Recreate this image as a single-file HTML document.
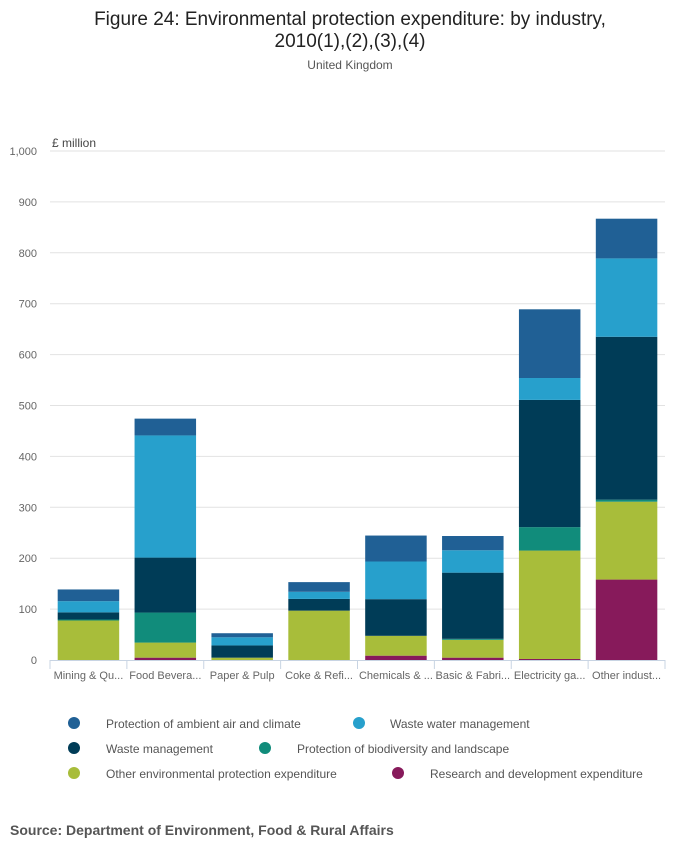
<!DOCTYPE html>
<html><head><meta charset="utf-8"><style>
body{margin:0;width:700px;height:857px;background:#fff;font-family:"Liberation Sans",sans-serif;overflow:hidden}
</style></head><body>
<svg width="700" height="857" xmlns="http://www.w3.org/2000/svg" id="chart">
<text x="350" y="25" text-anchor="middle" font-size="19" fill="#222">Figure 24: Environmental protection expenditure: by industry,</text>
<text x="350" y="47" text-anchor="middle" font-size="19" fill="#222">2010(1),(2),(3),(4)</text>
<text x="350" y="69" text-anchor="middle" font-size="12" fill="#555">United Kingdom</text>
<text x="52" y="147" font-size="12" fill="#444">£ million</text>
<g id="grid"></g><g id="bars"></g><g id="xaxis"></g><g id="legend"></g>
<text x="10" y="835" font-size="14" font-weight="bold" fill="#555">Source: Department of Environment, Food &amp; Rural Affairs</text>
</svg>
<script>
const categories=["Mining & Qu...","Food Bevera...","Paper & Pulp","Coke & Refi...","Chemicals & ...","Basic & Fabri...","Electricity ga...","Other indust..."];
const seriesNames=["Research and development expenditure","Other environmental protection expenditure","Protection of biodiversity and landscape","Waste management","Waste water management","Protection of ambient air and climate"];
const rd=[0,4.6,0,0,8.5,4.6,2,158];
const otherEnv=[77.6,29.6,4.6,97,39,35,213,153];
const biodiv=[2,59,0,0,0,2,46,4];
const wasteMgmt=[14,108,24,23,72,130,250,320];
const wasteWater=[22,240,16,14,74,44,43,154];
const air=[23,33,8,19,51,28,135,78];
const yTicks=[0,100,200,300,400,500,600,700,800,900,1000];
const yTickLabels=["0","100","200","300","400","500","600","700","800","900","1,000"];
const colors=["#871a5b","#a8bd3a","#118c7b","#003c57","#27a0cc","#206095"];
const series=[rd,otherEnv,biodiv,wasteMgmt,wasteWater,air];
const NS="http://www.w3.org/2000/svg";
const x0=50,x1=665,y0=660,yTop=151;
const y=v=>y0-(v/1000)*(y0-yTop);
const bw=(x1-x0)/categories.length;
const xc=i=>x0+bw*(i+0.5);
function mk(t,a,p){const e=document.createElementNS(NS,t);for(const k in a)e.setAttribute(k,a[k]);p.appendChild(e);return e;}
const grid=document.getElementById('grid');
yTicks.forEach((t,i)=>{
 if(t>0){const l=mk('line',{x1:x0,x2:x1,y1:y(t),y2:y(t),stroke:'#e2e2e2','stroke-width':1},grid);
 
 }
 const tx=mk('text',{x:37,y:y(t)+4,'text-anchor':'end','font-size':11,fill:'#666'},grid);
 tx.textContent=yTickLabels[i];
 
 
});
const bars=document.getElementById('bars');
categories.forEach((c,i)=>{
 let cum=0;
 series.forEach((s,j)=>{
  const v=s[i];if(v<=0)return;
  const r=mk('rect',{x:xc(i)-bw*0.4,width:bw*0.8,y:y(cum+v),height:y(cum)-y(cum+v),fill:colors[j]},bars);
  
  
  cum+=v;
 });
});
const xa=document.getElementById('xaxis');
const ax=mk('line',{x1:x0,x2:x1,y1:y0+0.5,y2:y0+0.5,stroke:'#c8d4e3'},xa);


for(let i=0;i<=categories.length;i++){
 const t=mk('line',{x1:x0+bw*i,x2:x0+bw*i,y1:y0,y2:y0+9,stroke:'#c8d4e3'},xa);
 
 
}
categories.forEach((c,i)=>{
 const t=mk('text',{x:xc(i),y:y0+19,'text-anchor':'middle','font-size':11,fill:'#666'},xa);
 t.textContent=c;
 
 
});
const lg=document.getElementById('legend');
const legendItems=[[5,74,106,724],[4,359,390,724],[3,74,106,749],[2,265,297,749],[1,74,106,774],[0,398,430,774]];
legendItems.forEach(([j,cx,tx,ly])=>{
 const g=mk('g',{},lg);
 
 
 mk('circle',{cx:cx,cy:ly-1,r:6,fill:colors[j]},g);
 const t=mk('text',{x:tx,y:ly+4,'font-size':12,fill:'#555'},g);
 t.textContent=seriesNames[j];
});
</script>
</body></html>
